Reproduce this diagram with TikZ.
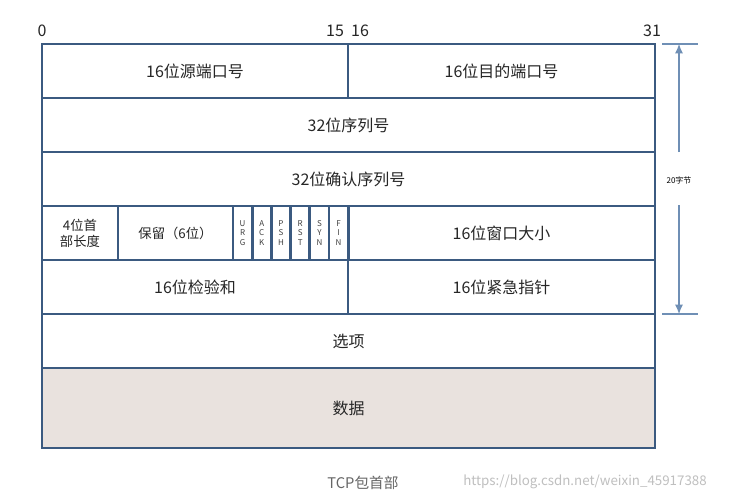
\documentclass[tikz,border=0pt]{standalone}
\usepackage{fontspec}
\setmainfont{Noto Sans CJK SC}
\usetikzlibrary{arrows.meta}
\definecolor{frame}{HTML}{3B5A80}
\definecolor{arr}{HTML}{6F8FB5}
\definecolor{datafill}{HTML}{E9E2DE}
\tikzset{cell/.style={draw=frame,line width=2.2pt},
  lab/.style={font=\fontsize{12}{14}\selectfont,text=black!85},
  flag/.style={font=\fontsize{6}{7}\selectfont,align=center,inner sep=0pt,text=black!75}}
\begin{document}
\begin{tikzpicture}[x=0.75pt,y=-0.75pt]
\useasboundingbox (0,0) rectangle (729,500);
\fill[white] (0,0) rectangle (729,500);
% cells
\draw[cell] (42,44) rectangle (348,98) node[midway,lab] (a) {16位源端口号};
\draw[cell] (348,44) rectangle (655,98) node[midway,lab] (b) {16位目的端口号};
\draw[cell] (42,98) rectangle (655,152) node[midway,lab] (c) {32位序列号};
\draw[cell] (42,152) rectangle (655,206) node[midway,lab] (d) {32位确认序列号};
\draw[cell] (42,206) rectangle (118,260) node[midway,lab,align=center,font=\fontsize{10}{12}\selectfont] (e) {4位首\\部长度};
\draw[cell] (118,206) rectangle (233,260) node[midway,lab,font=\fontsize{10}{12}\selectfont] (f) {保留（6位）};
\foreach \i/\t in {0/U\\R\\G,1/A\\C\\K,2/P\\S\\H,3/R\\S\\T,4/S\\Y\\N,5/F\\I\\N}{
  \draw[cell] ({233+\i*19.2},206) rectangle ({233+(\i+1)*19.2},260) node[midway,flag] (fl\i) {\t};
}
\draw[cell] (348,206) rectangle (655,260) node[midway,lab] (g) {16位窗口大小};
\draw[cell] (42,260) rectangle (348,314) node[midway,lab] (h) {16位检验和};
\draw[cell] (348,260) rectangle (655,314) node[midway,lab] (i) {16位紧急指针};
\draw[cell] (42,314) rectangle (655,368) node[midway,lab] (j) {选项};
\draw[cell,fill=datafill] (42,368) rectangle (655,448) node[midway,lab] (k) {数据};
% bit numbers
\node[lab] (n0) at (42,31) {0};
\node[lab] (n15) at (335,31) {15};
\node[lab] (n16) at (360,31) {16};
\node[lab] (n31) at (652,31) {31};
% size arrow
\draw[arr,line width=0.8pt] (662,44) -- (698,44);
\draw[arr,line width=0.8pt] (662,314) -- (698,314);
\coordinate (t1) at (679,44); \coordinate (t2) at (679,152);
\coordinate (b1) at (679,314); \coordinate (b2) at (679,205);
\draw[arr,line width=0.8pt,-{Latex[length=7pt,width=6pt]}] (t2) -- (t1);
\draw[arr,line width=0.8pt,-{Latex[length=7pt,width=6pt]}] (b2) -- (b1);
\node[font=\fontsize{6}{7}\selectfont] (sz) at (679,180) {20字节};
% caption
\node[font=\fontsize{11}{13}\selectfont,text=black!60] (cap) at (363,483) {TCP包首部};
\node[font=\fontsize{10}{12}\selectfont,text=black!25] (wm) at (585,482) {https://blog.csdn.net/weixin\_45917388};
\end{tikzpicture}
\end{document}
